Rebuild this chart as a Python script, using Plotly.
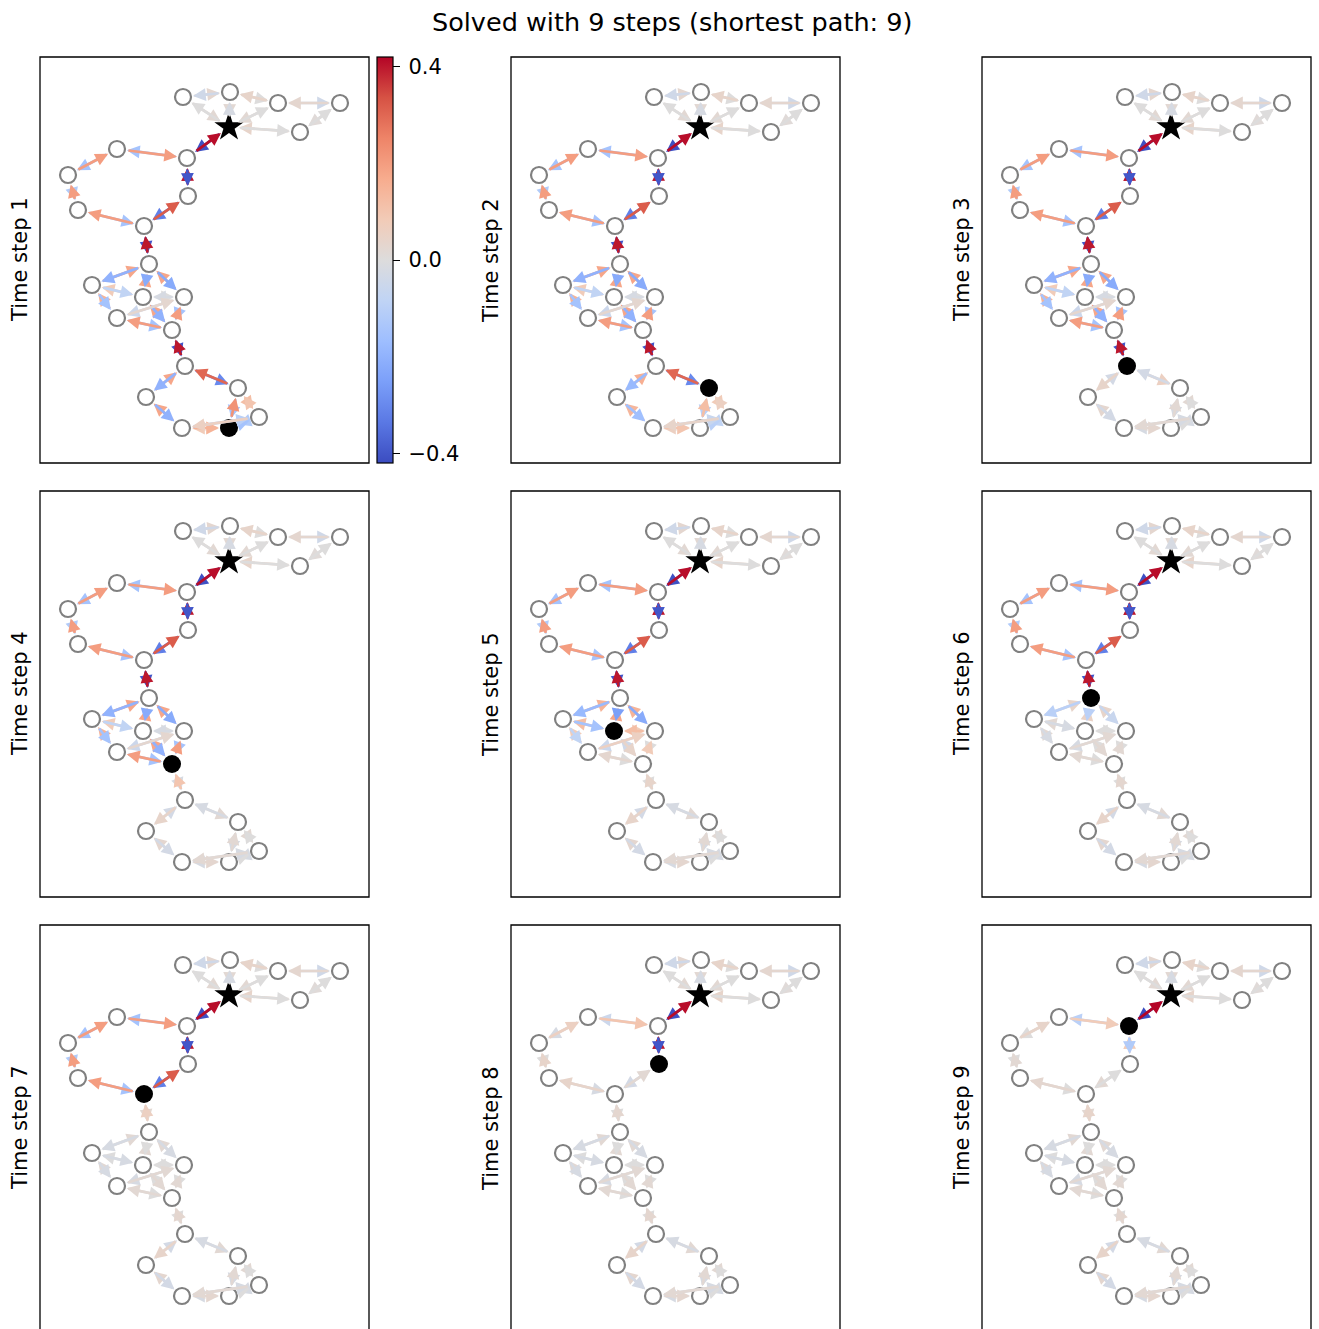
import plotly.graph_objects as go
from plotly.colors import sample_colorscale

FIG_W, FIG_H = 1319, 1329

# ---------------- data ----------------
node_names = ["A", "B", "C", "D", "E", "S", "F", "G", "H", "I", "J", "K",
              "L", "M", "N", "O", "P", "Q", "R", "T", "U", "V", "W", "X"]
node_x = [143, 190, 238, 300, 260, 189, 147, 77, 28, 38, 104, 148,
          109, 52, 103, 144, 77, 132, 145, 198, 106, 219, 142, 189]
node_y = [366, 371, 360, 360, 331, 336, 305, 314, 288, 253, 237, 267,
          199, 178, 166, 166, 145, 133, 97, 75, 66, 46, 35, 35]

edges = [("A", "B"), ("B", "C"), ("C", "D"), ("D", "E"), ("A", "S"), ("B", "S"), ("C", "S"), ("E", "S"),
         ("F", "S"), ("F", "G"), ("G", "H"), ("H", "I"), ("I", "J"), ("J", "K"), ("K", "F"), ("J", "L"),
         ("L", "M"), ("L", "N"), ("L", "O"), ("M", "N"), ("M", "P"), ("N", "O"), ("N", "Q"), ("O", "Q"),
         ("P", "Q"), ("P", "O"), ("Q", "R"), ("R", "T"), ("R", "U"), ("U", "W"), ("W", "X"), ("X", "T"),
         ("T", "V"), ("X", "V"), ("W", "V")]
# which direction of each edge is drawn last (on top): 0 -> u->v, 1 -> v->u
top_direction = [1, 1, 1, 1, 1, 1, 1, 1,
                 0, 1, 1, 1, 1, 0, 1, 1,
                 0, 0, 0, 0, 0, 1, 0, 1,
                 1, 0, 1, 1, 0, 0, 0, 0,
                 1, 0, 1]

goal_node = "S"
agent_nodes = ["X", "T", "R", "Q", "N", "L", "J", "K", "F"]
step_labels = ["Time step %d" % i for i in range(1, 10)]
title_text = "Solved with 9 steps (shortest path: 9)"

# (value of u->v, value of v->u) for each edge (u, v), per time step
step1 = [(0.03, -0.04), (0.0, 0.04), (-0.04, 0.03), (0.01, 0.0), (0.02, 0.0), (0.02, -0.02), (0.02, 0.0), (0.04, 0.0),
         (0.41, -0.41), (-0.15, 0.2), (-0.15, 0.2), (-0.12, 0.2), (-0.15, 0.2), (0.32, -0.32), (0.4, -0.4), (-0.4, 0.4),
         (-0.2, 0.18), (-0.22, 0.18), (-0.22, 0.18), (-0.08, 0.08), (-0.15, 0.15), (0.0, -0.02), (-0.2, 0.18), (-0.15, 0.2),
         (-0.15, 0.2), (0.03, -0.05), (-0.4, 0.4), (-0.3, 0.3), (-0.2, 0.18), (-0.2, 0.18), (0.15, 0.08), (0.22, -0.15),
         (0.12, 0.1), (-0.15, -0.12), (-0.1, 0.06)]
step2 = [(0.03, -0.04), (0.0, 0.04), (-0.04, 0.03), (0.01, 0.0), (0.02, 0.0), (0.02, -0.02), (0.02, 0.0), (0.04, 0.0),
         (0.41, -0.41), (-0.15, 0.2), (-0.15, 0.2), (-0.12, 0.2), (-0.15, 0.2), (0.32, -0.32), (0.4, -0.4), (-0.4, 0.4),
         (-0.2, 0.18), (-0.22, 0.18), (-0.22, 0.18), (-0.08, 0.08), (-0.15, 0.15), (0.0, -0.02), (-0.2, 0.18), (-0.15, 0.2),
         (-0.15, 0.2), (0.03, -0.05), (-0.4, 0.4), (-0.3, 0.3), (-0.18, 0.16), (-0.16, 0.14), (0.1, 0.06), (0.12, -0.1),
         (0.08, 0.06), (-0.1, -0.08), (-0.06, 0.04)]
step3 = [(0.03, -0.04), (0.0, 0.04), (-0.04, 0.03), (0.01, 0.0), (0.02, 0.0), (0.02, -0.02), (0.02, 0.0), (0.04, 0.0),
         (0.41, -0.41), (-0.15, 0.2), (-0.15, 0.2), (-0.12, 0.2), (-0.15, 0.2), (0.32, -0.32), (0.4, -0.4), (-0.4, 0.4),
         (-0.2, 0.18), (-0.22, 0.18), (-0.22, 0.18), (-0.08, 0.08), (-0.15, 0.15), (0.0, -0.02), (-0.2, 0.18), (-0.15, 0.2),
         (-0.15, 0.2), (0.03, -0.05), (-0.4, 0.4), (0.06, -0.03), (0.04, -0.03), (-0.03, 0.03), (0.03, -0.02), (0.02, -0.02),
         (0.02, 0.0), (0.0, -0.02), (-0.02, 0.02)]
step4 = [(0.03, -0.04), (0.0, 0.04), (-0.04, 0.03), (0.01, 0.0), (0.02, 0.0), (0.02, -0.02), (0.02, 0.0), (0.04, 0.0),
         (0.41, -0.41), (-0.15, 0.2), (-0.15, 0.2), (-0.12, 0.2), (-0.15, 0.2), (0.32, -0.32), (0.4, -0.4), (-0.4, 0.4),
         (-0.2, 0.18), (-0.22, 0.18), (-0.22, 0.18), (-0.08, 0.08), (-0.15, 0.15), (0.0, -0.02), (-0.2, 0.18), (-0.15, 0.2),
         (-0.15, 0.2), (0.03, -0.05), (-0.02, 0.1), (0.02, -0.02), (0.04, -0.03), (-0.03, 0.03), (0.03, -0.02), (0.02, -0.02),
         (0.02, 0.0), (0.0, -0.02), (-0.02, 0.02)]
step5 = [(0.03, -0.04), (0.0, 0.04), (-0.04, 0.03), (0.01, 0.0), (0.02, 0.0), (0.02, -0.02), (0.02, 0.0), (0.04, 0.0),
         (0.41, -0.41), (-0.15, 0.2), (-0.15, 0.2), (-0.12, 0.2), (-0.15, 0.2), (0.32, -0.32), (0.4, -0.4), (-0.4, 0.4),
         (-0.18, 0.15), (-0.25, 0.18), (-0.22, 0.15), (-0.15, 0.12), (-0.08, 0.08), (0.08, 0.12), (0.04, -0.04), (0.0, 0.08),
         (0.0, 0.03), (0.06, -0.05), (0.0, 0.04), (0.02, -0.02), (0.04, -0.03), (-0.03, 0.03), (0.03, -0.02), (0.02, -0.02),
         (0.02, 0.0), (0.0, -0.02), (-0.02, 0.02)]
step6 = [(0.03, -0.04), (0.0, 0.04), (-0.04, 0.03), (0.01, 0.0), (0.02, 0.0), (0.02, -0.02), (0.02, 0.0), (0.04, 0.0),
         (0.41, -0.41), (-0.15, 0.2), (-0.15, 0.2), (-0.12, 0.2), (-0.15, 0.2), (0.32, -0.32), (0.4, -0.4), (-0.4, 0.4),
         (-0.1, 0.04), (-0.1, 0.05), (-0.06, 0.04), (-0.02, 0.02), (-0.02, 0.02), (0.0, 0.0), (0.02, 0.0), (0.0, 0.02),
         (0.0, 0.02), (0.02, -0.02), (0.0, 0.03), (0.02, -0.02), (0.04, -0.03), (-0.03, 0.03), (0.03, -0.02), (0.02, -0.02),
         (0.02, 0.0), (0.0, -0.02), (-0.02, 0.02)]
step7 = [(0.03, -0.04), (0.0, 0.04), (-0.04, 0.03), (0.01, 0.0), (0.02, 0.0), (0.02, -0.02), (0.02, 0.0), (0.04, 0.0),
         (0.41, -0.41), (-0.15, 0.2), (-0.15, 0.2), (-0.12, 0.2), (-0.15, 0.2), (0.32, -0.32), (0.4, -0.4), (0.02, 0.06),
         (-0.02, 0.02), (0.0, 0.02), (-0.02, 0.02), (-0.02, 0.0), (-0.02, 0.02), (0.0, 0.0), (0.02, 0.0), (0.0, 0.02),
         (0.0, 0.02), (0.02, -0.02), (0.0, 0.03), (0.02, -0.02), (0.04, -0.03), (-0.03, 0.03), (0.03, -0.02), (0.02, -0.02),
         (0.02, 0.0), (0.0, -0.02), (-0.02, 0.02)]
step8 = [(0.03, -0.04), (0.0, 0.04), (-0.04, 0.03), (0.01, 0.0), (0.02, 0.0), (0.02, -0.02), (0.02, 0.0), (0.04, 0.0),
         (0.41, -0.41), (-0.05, 0.1), (-0.02, 0.06), (0.0, 0.04), (-0.02, 0.04), (0.02, -0.03), (0.4, -0.4), (0.0, 0.03),
         (-0.02, 0.02), (0.0, 0.02), (-0.02, 0.02), (-0.02, 0.0), (-0.02, 0.02), (0.0, 0.0), (0.02, 0.0), (0.0, 0.02),
         (0.0, 0.02), (0.02, -0.02), (0.0, 0.03), (0.02, -0.02), (0.04, -0.03), (-0.03, 0.03), (0.03, -0.02), (0.02, -0.02),
         (0.02, 0.0), (0.0, -0.02), (-0.02, 0.02)]
step9 = [(0.03, -0.04), (0.0, 0.04), (-0.04, 0.03), (0.01, 0.0), (0.02, 0.0), (0.02, -0.02), (0.02, 0.0), (0.04, 0.0),
         (0.42, -0.42), (-0.1, 0.08), (0.0, 0.04), (0.0, 0.02), (0.0, 0.03), (0.0, 0.02), (0.08, -0.12), (0.02, 0.04),
         (-0.02, 0.02), (0.0, 0.02), (-0.02, 0.02), (-0.02, 0.0), (-0.02, 0.02), (0.0, 0.0), (0.02, 0.0), (0.0, 0.02),
         (0.0, 0.02), (0.02, -0.02), (0.0, 0.03), (0.02, -0.02), (0.04, -0.03), (-0.03, 0.03), (0.03, -0.02), (0.02, -0.02),
         (0.02, 0.0), (0.0, -0.02), (-0.02, 0.02)]
step_values = [step1, step2, step3, step4, step5, step6, step7, step8, step9]

color_min, color_max = -0.42, 0.42
colorbar_ticks = [-0.4, 0.0, 0.4]
colorbar_ticktext = ["\u2009\u22120.4", "\u20090.0", "\u20090.4"]

# matplotlib "coolwarm"
coolwarm = [[0.0, "#3b4cc0"], [0.1, "#5a78e4"], [0.2, "#7b9ff9"], [0.3, "#9ebeff"], [0.4, "#c0d4f5"],
            [0.5, "#dddcdc"], [0.6, "#f2cbb7"], [0.7, "#f7ac8e"], [0.8, "#ee8468"], [0.9, "#d65244"],
            [1.0, "#b40426"]]

# ---------------- layout geometry ----------------
FONT = "DejaVu Sans"
col_left = [40, 511, 982]
row_top = [57, 491, 925]
PW, PH = 329, 406

pos = {n: (x, y) for n, x, y in zip(node_names, node_x, node_y)}


def vcolor(v):
    t = (v - color_min) / (color_max - color_min)
    t = min(max(t, 0.0), 1.0)
    return sample_colorscale(coolwarm, [t])[0]


fig = go.Figure()
annotations = []
shapes = []
layout_axes = {}

for k in range(9):
    r, c = divmod(k, 3)
    x0, y0 = col_left[c], row_top[r]
    ybot = min(y0 + PH, FIG_H)
    xs = "" if k == 0 else str(k + 1)
    xa, ya = "x" + xs, "y" + xs
    layout_axes["xaxis" + xs] = dict(domain=[x0 / FIG_W, (x0 + PW) / FIG_W], range=[0, PW],
                                     showgrid=False, zeroline=False, showticklabels=False, ticks="",
                                     showline=False, anchor=ya, fixedrange=True)
    layout_axes["yaxis" + xs] = dict(domain=[1 - ybot / FIG_H, 1 - y0 / FIG_H], range=[PH - (ybot - y0), PH],
                                     showgrid=False, zeroline=False, showticklabels=False, ticks="",
                                     showline=False, anchor=xa, fixedrange=True)
    shapes.append(dict(type="rect", xref=xa + " domain", yref=ya + " domain", x0=0, x1=1,
                       y0=(0 if ybot == y0 + PH else -0.02), y1=1,
                       line=dict(color="black", width=1.3), fillcolor="rgba(0,0,0,0)", layer="above"))

    vals = step_values[k]
    for (u, v), (fwd, back), top in zip(edges, vals, top_direction):
        pair = [(u, v, fwd), (v, u, back)]
        if top == 0:
            pair = pair[::-1]
        for (s, t, val) in pair:
            annotations.append(dict(
                x=pos[t][0], y=pos[t][1], ax=pos[s][0], ay=pos[s][1],
                xref=xa, yref=ya, axref=xa, ayref=ya, text="", showarrow=True,
                arrowhead=2, arrowsize=0.95, arrowwidth=2.7, arrowcolor=vcolor(val),
                standoff=10, startstandoff=10))

    agent = agent_nodes[k]
    plain = [n for n in node_names if n not in (agent, goal_node)]
    fig.add_trace(go.Scatter(x=[pos[n][0] for n in plain], y=[pos[n][1] for n in plain],
                             xaxis=xa, yaxis=ya, mode="markers", hoverinfo="skip",
                             marker=dict(size=16, color="white", line=dict(color="#808080", width=2.2))))
    fig.add_trace(go.Scatter(x=[pos[agent][0]], y=[pos[agent][1]], xaxis=xa, yaxis=ya, mode="markers",
                             hoverinfo="skip", marker=dict(size=18, color="black", line=dict(color="black", width=0))))
    fig.add_trace(go.Scatter(x=[pos[goal_node][0]], y=[pos[goal_node][1]], xaxis=xa, yaxis=ya, mode="markers",
                             hoverinfo="skip", marker=dict(size=22, symbol="star", color="black",
                                                           line=dict(color="black", width=0))))
    annotations.append(dict(text=step_labels[k], x=(x0 - 20) / FIG_W, y=1 - (y0 + 203) / FIG_H,
                            xref="paper", yref="paper", showarrow=False, textangle=-90,
                            xanchor="center", yanchor="middle",
                            font=dict(family=FONT, size=21, color="black")))

# colorbar carrier (off-axis point)
fig.add_trace(go.Scatter(x=[-1000], y=[-1000], xaxis="x", yaxis="y", mode="markers", hoverinfo="skip",
                         marker=dict(color=[0.0], colorscale=coolwarm, cmin=color_min, cmax=color_max,
                                     showscale=True,
                                     colorbar=dict(x=377 / FIG_W, xanchor="left", y=1 - 260 / FIG_H,
                                                   yanchor="middle", len=406, lenmode="pixels",
                                                   thickness=16, thicknessmode="pixels",
                                                   outlinewidth=1.2, outlinecolor="black",
                                                   ticks="outside", ticklen=7, tickwidth=1.2, tickcolor="black",
                                                   tickvals=colorbar_ticks, ticktext=colorbar_ticktext,
                                                   tickfont=dict(family=FONT, size=21, color="black"),
                                                   xpad=0, ypad=0))))

annotations.append(dict(text=title_text, x=672 / FIG_W, y=1 - 22 / FIG_H, xref="paper", yref="paper",
                        showarrow=False, xanchor="center", yanchor="middle",
                        font=dict(family=FONT, size=25.5, color="black")))

fig.update_layout(width=FIG_W, height=FIG_H, autosize=False, margin=dict(l=0, r=0, t=0, b=0),
                  paper_bgcolor="white", plot_bgcolor="white", showlegend=False, hovermode=False,
                  annotations=annotations, shapes=shapes, **layout_axes)

fig.write_html("out.html")
